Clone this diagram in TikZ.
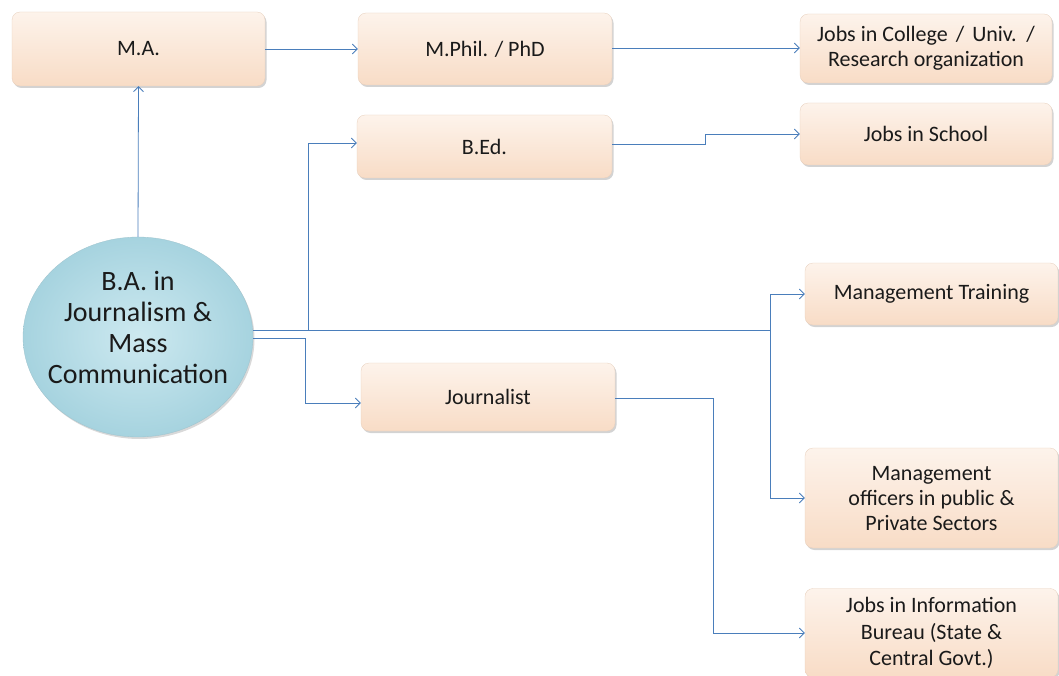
\documentclass[tikz,border=0pt]{standalone}
\usepackage{fontspec}
\setmainfont{Carlito}
\usetikzlibrary{arrows.meta,shadows,shapes.geometric}
\definecolor{lineblue}{HTML}{4A7EBB}
\definecolor{peachtop}{HTML}{FDF3EB}
\definecolor{peachbot}{HTML}{F8DCC6}
\definecolor{bluein}{HTML}{CDE9F0}
\definecolor{blueout}{HTML}{A6D3DF}
\definecolor{txt}{HTML}{1A1A1A}
\begin{document}
\begin{tikzpicture}[x=1pt,y=-1pt,
  pbox/.style={rectangle, rounded corners=8pt, top color=peachtop, bottom color=peachbot,
    draw=peachbot!85!gray, line width=0.3pt,
    drop shadow={shadow xshift=1.5pt, shadow yshift=-2pt, opacity=0.35},
    align=center, inner sep=2pt, text=txt,
    font=\fontsize{22}{25}\selectfont},
  conn/.style={draw=lineblue, line width=0.8pt},
  arr/.style={conn, -{Straight Barb[length=5pt,width=10pt,line width=0.8pt]}}]
\useasboundingbox (0,0) rectangle (1059,676);

% nodes
\node[pbox, minimum width=253pt, minimum height=74pt] (ma) at (138.5,49) {M.A.};
\node[pbox, minimum width=254pt, minimum height=72pt] (mphil) at (485,49) {M.Phil. / PhD};
\node[pbox, minimum width=252pt, minimum height=69pt] (college) at (926,48.5) {Jobs in College\hspace{3pt} /\hspace{3pt} Univ.\hspace{3pt} /\\ Research organization};
\node[pbox, minimum width=255pt, minimum height=63pt] (bed) at (484.5,146.5) {B.Ed.};
\node[pbox, minimum width=252pt, minimum height=62pt] (school) at (926,134) {Jobs in School};
\node[pbox, minimum width=253pt, minimum height=62pt] (mtrain) at (931.5,294) {Management Training};
\node[pbox, minimum width=254pt, minimum height=68pt] (journ) at (488,397) {Journalist};
\node[pbox, minimum width=253pt, minimum height=100pt, text depth=0pt] (moff) at (931.5,498) {Management\\ officers in public \&\\ Private Sectors};
\node[pbox, minimum width=253pt, minimum height=89pt, font=\fontsize{22}{26.5}\selectfont] (info) at (931.5,633) {Jobs in Information\\ Bureau (State \&\\ Central Govt.)};
\node[ellipse, minimum width=230pt, minimum height=200pt, inner sep=0pt,
  inner color=bluein, outer color=blueout, draw=blueout!80!gray, line width=0.3pt,
  drop shadow={shadow xshift=1.5pt, shadow yshift=-2pt, opacity=0.3}] (ba) at (138,337) {};
\node[align=center, text=txt, inner sep=0pt, font=\fontsize{28}{31}\selectfont] (batxt) at (138,327)
  {B.A. in\\ Journalism \&\\ Mass\\ Communication};

% junction coordinates
\coordinate (j1) at (308,330);
\coordinate (j2) at (770,330);
\coordinate (j3) at (305,338);
\coordinate (j4) at (705,144);
\coordinate (j5) at (713,398);

% connectors
\draw[arr] (ma.east) -- (mphil.west);
\draw[arr] (mphil.east |- 0,48) -- (college.west |- 0,48);
\draw[arr] (ba.north) -- (ma.south);
\draw[arr] (ba.east |- j1) -- (j1) -- (j1 |- 0,143) -- (bed.west |- 0,143);
\draw[conn] (j1) -- (j2);
\draw[arr] (j2) -- (j2 |- mtrain.west) -- (mtrain.west);
\draw[arr] (j2) -- (j2 |- moff.west) -- (moff.west);
\draw[arr] (ba.east |- j3) -- (j3) -- (j3 |- 0,403) -- (journ.west |- 0,403);
\draw[arr] (bed.east |- j4) -- (j4) -- (j4 |- school.west) -- (school.west);
\draw[arr] (journ.east |- j5) -- (j5) -- (j5 |- info.west) -- (info.west);
\end{tikzpicture}
\end{document}
